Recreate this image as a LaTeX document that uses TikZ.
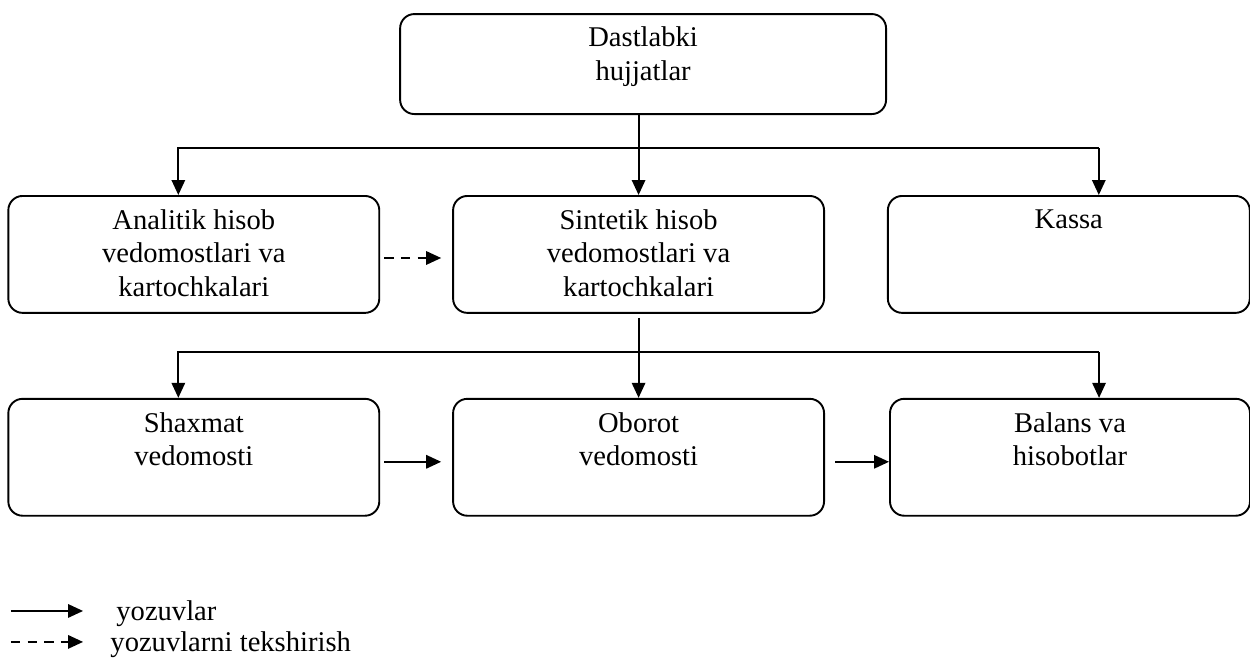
\documentclass[tikz,border=0pt]{standalone}
\usepackage{fontspec}
\setmainfont{Liberation Serif}
\usepackage{tikz}
\usetikzlibrary{positioning,arrows.meta}

\begin{document}
\begin{tikzpicture}[
  rowbox/.style={draw, line width=0.8pt, rounded corners=6pt, minimum width=155.8pt, minimum height=49.1pt, inner sep=0pt},
  topbox/.style={rowbox, minimum width=204.1pt, minimum height=42pt},
  txt/.style={align=center, inner sep=0pt, font=\fontsize{12}{14}\selectfont},
  lab/.style={anchor=base west, inner sep=0pt, font=\fontsize{12}{14}\selectfont},
  arr/.style={-{Triangle[length=6.3pt, width=5.6pt]}, line width=0.85pt},
  dasharr/.style={arr, dash pattern=on 4pt off 3pt}]
  \useasboundingbox (0,0) rectangle (525pt,-276.8pt);
  % boxes
  \node[topbox] (dast) at (270.1pt,-26.9pt) {};
  \node[rowbox, below=33.6pt of dast, xshift=-1.9pt] (sint) {};
  \node[rowbox, left=30.2pt of sint] (ana) {};
  \node[rowbox, right=26pt of sint, minimum width=152pt] (kas) {};
  \node[rowbox, below=35.3pt of sint] (obo) {};
  \node[rowbox, left=30.2pt of obo] (sha) {};
  \node[rowbox, right=26.9pt of obo, minimum width=151.2pt] (bal) {};
  % texts
  \node[txt, below=5.6pt of dast.north] (dastt) {Dastlabki\\hujjatlar};
  \node[txt, below=6pt of ana.north] (anat) {Analitik hisob\\vedomostlari va\\kartochkalari};
  \node[txt, below=6pt of sint.north] (sintt) {Sintetik hisob\\vedomostlari va\\kartochkalari};
  \node[txt, below=6pt of kas.north] (kast) {Kassa};
  \node[txt, below=6pt of sha.north] (shat) {Shaxmat\\vedomosti};
  \node[txt, below=6pt of obo.north] (obot) {Oborot\\vedomosti};
  \node[txt, below=6pt of bal.north] (balt) {Balans va\\hisobotlar};
  % forks
  \coordinate (fork1) at ([yshift=-13.9pt]dast.south);
  \coordinate (fork2) at ([yshift=-16pt]sint.south);
  \coordinate (a1) at ([xshift=-6.5pt]ana.north);
  \coordinate (k1) at ([xshift=12.6pt]kas.north);
  \coordinate (s1) at ([xshift=-6.5pt]sha.north);
  \coordinate (b1) at ([xshift=12.2pt]bal.north);
  \draw[arr] (dast.south -| sint.north) -- (sint.north);
  \draw[arr] (k1 |- fork1) -| (a1);
  \draw[arr] (k1 |- fork1) -- (k1);
  \draw[arr, shorten <=1.7pt] (sint.south) -- (obo.north);
  \draw[arr] (b1 |- fork2) -| (s1);
  \draw[arr] (b1 |- fork2) -- (b1);
  \draw[dasharr, shorten <=1.7pt, shorten >=4.6pt] ([yshift=-1.5pt]ana.east) -- ([yshift=-1.5pt]sint.west);
  \draw[arr, shorten <=1.7pt, shorten >=4.6pt] ([yshift=-1.9pt]sha.east) -- ([yshift=-1.9pt]obo.west);
  \draw[arr, shorten <=4.2pt] ([yshift=-1.9pt]obo.east) -- ([yshift=-1.9pt]bal.west);
  % legend
  \coordinate (l1a) at (4.6pt,-256.6pt);
  \coordinate (l1b) at (34.9pt,-256.6pt);
  \coordinate (l2a) at (4.6pt,-269.6pt);
  \coordinate (l2b) at (34.9pt,-269.6pt);
  \draw[arr] (l1a) -- (l1b);
  \draw[dasharr] (l2a) -- (l2b);
  \node[lab] (l1t) at (48.7pt,-260.4pt) {yozuvlar};
  \node[lab] (l2t) at (46.2pt,-273.8pt) {yozuvlarni tekshirish};
\end{tikzpicture}
\end{document}
